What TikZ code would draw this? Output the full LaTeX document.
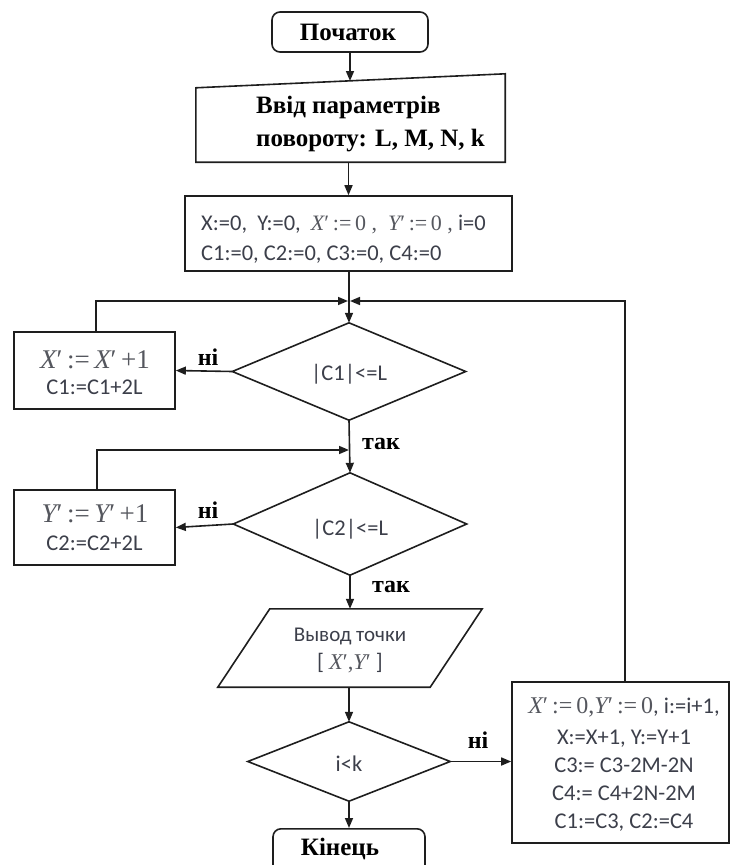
\documentclass[tikz,border=0pt]{standalone}
\usepackage{fontspec}
\setmainfont{Liberation Serif}
\newfontfamily\calfont{Carlito}
\usetikzlibrary{arrows.meta}
\definecolor{ink}{HTML}{1E1E1E}
\definecolor{txtgray}{HTML}{3C3F4A}
\definecolor{mathgray}{HTML}{55575E}
% primed variables set in serif italic
\newcommand\vX{{\itshape X}′}
\newcommand\vY{{\itshape Y}′}
\tikzset{
  line/.style={line width=1.6pt, draw=ink},
  arr/.style={line, -{Triangle[length=10pt,width=8pt]}},
  term/.style={line, rectangle, rounded corners=8pt, inner sep=0pt},
  box/.style={line, rectangle, inner sep=0pt},
  ghost/.style={rectangle, inner sep=0pt},
  hd/.style={font=\fontsize{25}{30}\selectfont\bfseries, text=black, inner sep=0pt},
  tx/.style={font=\calfont\fontsize{22.5}{27}\selectfont, text=txtgray, align=center, inner sep=0pt},
  lbl/.style={font=\fontsize{24}{28}\selectfont\bfseries, text=black, inner sep=0pt}
}
\begin{document}
\begin{tikzpicture}[x=1pt,y=-1pt]
\useasboundingbox (0,0) rectangle (731,865);
\clip (0,0) rectangle (731,865);

% terminals
\node[term, minimum width=156pt, minimum height=40pt] (start) at (350,32) {};
\node[hd, anchor=base] (starttxt) at (348,40) {Початок};
\node[term, minimum width=152pt, minimum height=52pt, anchor=north] (end) at (349,828) {};
\node[hd, anchor=base] (endtxt) at (340,855) {Кінець};

% manual input of the rotation parameters
\node[ghost, minimum width=309pt, minimum height=88pt] (input) at (350.5,118) {};
\draw[line] ([yshift=-14pt]input.north west) -- (input.north east) -- (input.south east) -- (input.south west) -- cycle;
\node[hd, anchor=base west] (in1) at (256,113) {Ввід параметрів};
\node[hd, anchor=base west] (in2) at (256,146) {повороту: L, M, N, k};
\coordinate (intop) at (350,81);

% initialisation
\node[box, minimum width=327pt, minimum height=75pt] (init) at (348.5,233.5) {};
\node[tx, anchor=base west] (init1) at (201,230) {X:=0,\ \ Y:=0,\ \ {\color{mathgray}\fontsize{22}{24}\selectfont\rmfamily \vX\,:=\,0\ ,\ \ \vY\,:=\,0\ ,} i=0};
\node[tx, anchor=base west] (init2) at (201,260) {C1:=0, C2:=0, C3:=0, C4:=0};

% decisions
\node[ghost, minimum width=233pt, minimum height=97pt] (d1) at (349,371.5) {};
\draw[line] (d1.north) -- (d1.east) -- (d1.south) -- (d1.west) -- cycle;
\node[tx, anchor=base] (d1t) at (349,380) {|C1|<=L};

\node[ghost, minimum width=233pt, minimum height=102pt] (d2) at (350,524) {};
\draw[line] (d2.north) -- (d2.east) -- (d2.south) -- (d2.west) -- cycle;
\node[tx, anchor=base] (d2t) at (350,535) {|C2|<=L};

\node[ghost, minimum width=202pt, minimum height=79pt] (d3) at (349,761.5) {};
\draw[line] (d3.north) -- (d3.east) -- (d3.south) -- (d3.west) -- cycle;
\node[tx, anchor=base] (d3t) at (349,771) {i<k};

% counters
\node[box, minimum width=161pt, minimum height=77pt] (bx) at (94.5,370.5) {};
\node[font=\fontsize{27}{28}\selectfont, text=mathgray, anchor=base, inner sep=0pt] (bx1) at (95,368) {\vX\,:=\,\vX\,+1};
\node[tx, anchor=base] (bx2) at (94.5,394) {C1:=C1+2L};

\node[box, minimum width=161pt, minimum height=75pt] (by) at (94.5,527.5) {};
\node[font=\fontsize{27}{28}\selectfont, text=mathgray, anchor=base, inner sep=0pt] (by1) at (95,522) {\vY\,:=\,\vY\,+1};
\node[tx, anchor=base] (by2) at (94.5,550) {C2:=C2+2L};

% output of the point
\node[ghost, minimum width=264pt, minimum height=78pt] (out) at (350,648) {};
\draw[line] ([xshift=52pt]out.north west) -- (out.north east) -- ([xshift=-52pt]out.south east) -- (out.south west) -- cycle;
\node[tx, font=\calfont\fontsize{21}{24}\selectfont, anchor=base] (out1) at (350,641) {Вывод точки};
\node[tx, anchor=base] (out2) at (350,669) {[ {\color{mathgray}\rmfamily\vX,\vY} ]};

% next step of the rotation
\node[box, minimum width=217pt, minimum height=161pt] (rb) at (620.5,762.5) {};
\node[tx, anchor=base] (rb1) at (624,713) {{\color{mathgray}\fontsize{24}{26}\selectfont\rmfamily \vX\,:=\,0,\vY\,:=\,0}, i:=i+1,};
\node[tx, anchor=base] (rb2) at (624,744) {X:=X+1, Y:=Y+1};
\node[tx, anchor=base] (rb3) at (624,772) {C3:= C3-2M-2N};
\node[tx, anchor=base] (rb4) at (624,800) {C4:= C4+2N-2M};
\node[tx, anchor=base] (rb5) at (624,828) {C1:=C3, C2:=C4};

% merge points of the loops
\coordinate (m1) at (349,301);
\coordinate (m2) at (349,450);

% connectors
\draw[arr] (start) -- (intop);
\draw[arr] (input.south -| init.north) -- (init.north);
\draw[arr] (init.south -| d1.north) -- (d1.north);
\draw[arr] ([xshift=1.5pt]bx.north) |- ([xshift=-1pt]m1);
\draw[arr] ([xshift=4.5pt]rb.north) |- ([xshift=1pt]m1);
\draw[arr] (d1.west) -- (bx.east);
\draw[arr] (d1.south) -- (d2.north);
\draw[arr] ([xshift=2.5pt]by.north) |- (m2);
\draw[arr] (d2.west) -- (by.east);
\draw[arr] (d2.south) -- (d2.south |- out.north);
\draw[arr] (out.south -| d3.north) -- (d3.north);
\draw[arr] (d3.east) -- (d3.east -| rb.west);
\draw[arr] (d3.south) -- (end.north);

% branch labels
\node[lbl] (no1) at (208,357) {ні};
\node[lbl] (yes1) at (381,444) {так};
\node[lbl] (no2) at (208,510) {ні};
\node[lbl] (yes2) at (391,587) {так};
\node[lbl] (no3) at (478,740) {ні};
\end{tikzpicture}
\end{document}
